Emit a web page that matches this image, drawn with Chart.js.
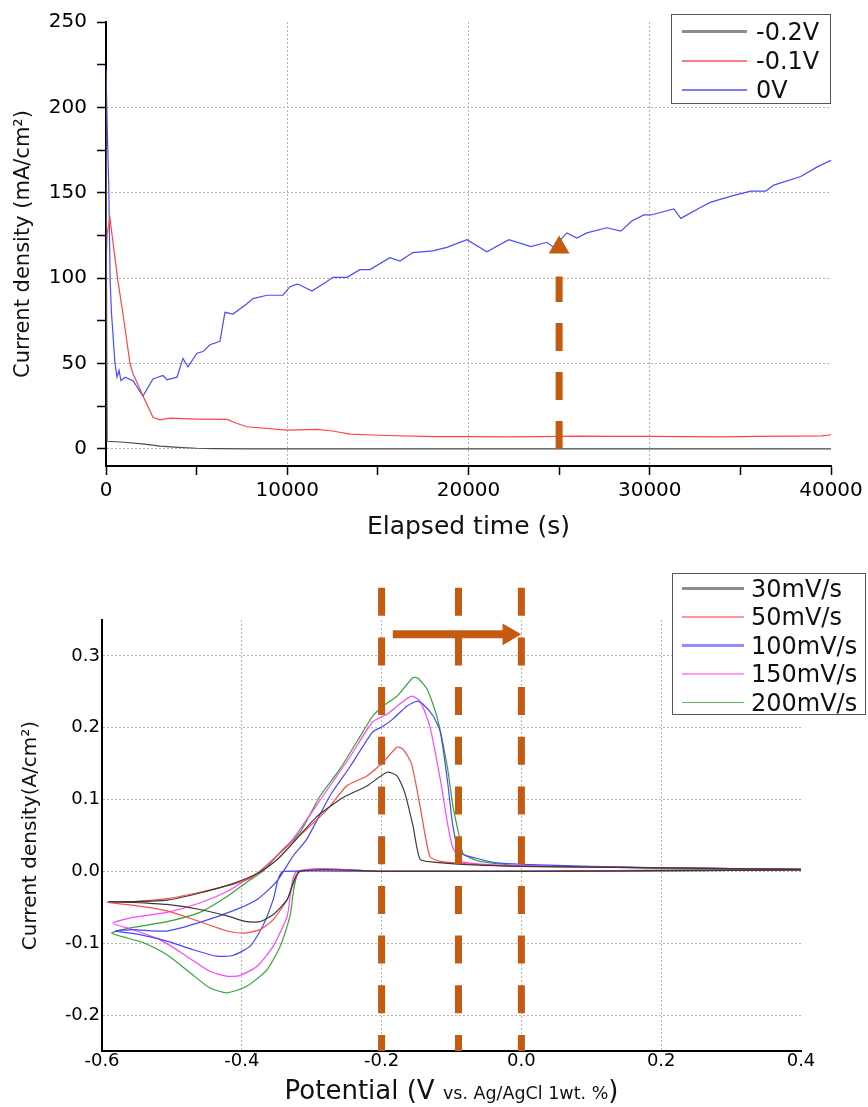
<!DOCTYPE html>
<html>
<head>
<meta charset="utf-8">
<script src="https://cdn.jsdelivr.net/npm/chart.js@4.4.1/dist/chart.umd.min.js"></script>
<style>
html,body{margin:0;padding:0;background:#fff;}
#wrap{position:relative;width:868px;height:1107px;overflow:hidden;font-family:'DejaVu Sans',sans-serif;color:#111;}
#c1{position:absolute;left:0;top:0;}
#c2{position:absolute;left:0;top:555px;}
.lgbox{position:absolute;border:1.5px solid #555;box-sizing:border-box;background:rgba(255,255,255,0.9);}
.lgline{position:absolute;}
.lgtext{position:absolute;white-space:nowrap;line-height:1;transform:translateY(-50%);color:#111;}
#xt2{position:absolute;left:102px;width:699px;top:1075px;text-align:center;font-size:26px;line-height:30px;white-space:nowrap;color:#111;}
#xt2 span{font-size:17.5px;}
</style>
</head>
<body>
<div id="wrap">
  <canvas id="c1" width="868" height="555"></canvas>
  <canvas id="c2" width="868" height="552"></canvas>
  <div id="xt2">Potential (V <span>vs. Ag/AgCl 1wt. %</span>)</div>
</div>
<script>
// ---------- Top chart data (chronoamperometry) ----------
const topSeriesNames = ['-0.2V', '-0.1V', '0V'];
const t_m02 = [0, 20, 60, 1000, 2000, 3000, 4000, 5000, 6000, 8000, 12000, 20000, 30000, 40000];
const j_m02 = [211, 120, 4.5, 3.9, 2.9, 1.6, 0.9, 0.4, 0.15, 0.05, 0, 0, 0, 0];
const t_m01 = [0, 60, 220, 662, 938, 1324, 1489, 1750, 2041, 2592, 2978, 3530, 5000, 6674, 7200, 7777, 9983, 11638, 12500, 13458, 15000, 18036, 20000, 22000, 24000, 26000, 28000, 30000, 32000, 34000, 36000, 38000, 39500, 40000];
const j_m01 = [105, 126, 135, 98, 79, 50, 44, 38, 31, 18.5, 17, 18, 17.5, 17.3, 15, 13, 11, 11.5, 10.5, 8.7, 8, 7.2, 7.2, 7.0, 7.2, 7.5, 7.3, 7.4, 7.2, 7.0, 7.3, 7.5, 7.6, 8.3];
const t_0 = [0, 80, 150, 230, 300, 496, 607, 717, 827, 1048, 1489, 2041, 2592, 3144, 3365, 3916, 4247, 4523, 5019, 5350, 5736, 6288, 6400, 6564, 7005, 7777, 8108, 8880, 9763, 10149, 10535, 10701, 11362, 12190, 12521, 13293, 14010, 14562, 15665, 16216, 16933, 18036, 18809, 19912, 21015, 22228, 23442, 24324, 24711, 25428, 25979, 26531, 27634, 28406, 29013, 29675, 30061, 31330, 31716, 32819, 33370, 34639, 35577, 36404, 36845, 38334, 39217, 40000];
const j_0 = [222, 183, 155, 98, 80, 50, 42, 46, 40, 42, 40, 31, 41, 43, 40.5, 42, 53, 48, 56, 57, 61, 63, 70, 80, 79, 85, 88, 90, 90, 95, 96.5, 96, 92.5, 98, 100.5, 100.5, 105, 105, 112, 110, 115, 116, 118, 122.5, 115.5, 122.5, 118.5, 121, 118, 126.5, 123.5, 126.5, 129.5, 127.5, 133.5, 137, 137, 140.5, 135, 141.5, 144.5, 148.5, 151, 151, 154.5, 159.5, 165, 169];
const topXTicks = [0, 5000, 10000, 15000, 20000, 25000, 30000, 35000, 40000];
const topXGrid = [10000, 20000, 30000];
const topYTicks = [0, 25, 50, 75, 100, 125, 150, 175, 200, 225, 250];
const topYGrid = [0, 50, 100, 150, 200];
// arrow marker (time, shaft from/to, head)
const markTime = [25000];
const markShaft = [0, 101];
const markHead = [118];

// ---------- Bottom chart data (cyclic voltammetry) ----------
const cvSeriesNames = ['30mV/s', '50mV/s', '100mV/s', '150mV/s', '200mV/s'];
const cv30_E = [0.4, 0.2, 0.0, -0.2, -0.317, -0.335, -0.355, -0.374, -0.393, -0.421, -0.460, -0.507, -0.556, -0.591, -0.556, -0.507, -0.460, -0.413, -0.378, -0.350, -0.331, -0.292, -0.255, -0.221, -0.192, -0.178, -0.167, -0.155, -0.145, -0.126, -0.069, 0.0, 0.2, 0.4];
const cv30_J = [0.002, 0.001, 0.0, 0.0, 0.0, -0.039, -0.060, -0.070, -0.070, -0.062, -0.053, -0.046, -0.043, -0.042, -0.042, -0.040, -0.030, -0.017, -0.003, 0.016, 0.035, 0.077, 0.103, 0.119, 0.138, 0.133, 0.110, 0.063, 0.017, 0.013, 0.009, 0.007, 0.005, 0.003];
const cv50_E = [0.4, 0.2, 0.0, -0.2, -0.317, -0.335, -0.355, -0.374, -0.398, -0.421, -0.460, -0.507, -0.556, -0.593, -0.556, -0.507, -0.460, -0.413, -0.385, -0.365, -0.345, -0.307, -0.278, -0.250, -0.221, -0.198, -0.178, -0.169, -0.157, -0.145, -0.131, -0.116, -0.069, 0.0, 0.2, 0.4];
const cv50_J = [0.002, 0.001, 0.0, 0.0, 0.0, -0.039, -0.067, -0.081, -0.086, -0.083, -0.070, -0.055, -0.047, -0.043, -0.042, -0.038, -0.029, -0.018, -0.008, 0.008, 0.026, 0.059, 0.086, 0.119, 0.133, 0.152, 0.173, 0.170, 0.149, 0.091, 0.021, 0.014, 0.010, 0.007, 0.005, 0.003];
const cv100_E = [0.4, 0.2, 0.0, -0.2, -0.341, -0.348, -0.355, -0.370, -0.388, -0.413, -0.436, -0.470, -0.507, -0.546, -0.581, -0.556, -0.507, -0.460, -0.413, -0.378, -0.350, -0.327, -0.307, -0.274, -0.245, -0.213, -0.198, -0.184, -0.164, -0.149, -0.141, -0.126, -0.116, -0.106, -0.098, -0.088, -0.059, -0.035, 0.0, 0.1, 0.2, 0.4];
const cv100_J = [0.002, 0.001, 0.0, 0.0, 0.0, -0.011, -0.039, -0.076, -0.104, -0.117, -0.118, -0.109, -0.097, -0.088, -0.083, -0.081, -0.083, -0.071, -0.055, -0.039, -0.014, 0.021, 0.045, 0.105, 0.146, 0.194, 0.202, 0.212, 0.230, 0.237, 0.233, 0.216, 0.194, 0.128, 0.063, 0.026, 0.017, 0.012, 0.010, 0.007, 0.005, 0.003];
const cv150_E = [0.4, 0.2, 0.0, -0.2, -0.321, -0.335, -0.355, -0.378, -0.403, -0.421, -0.446, -0.479, -0.517, -0.556, -0.584, -0.556, -0.507, -0.460, -0.421, -0.393, -0.374, -0.331, -0.284, -0.245, -0.213, -0.192, -0.174, -0.157, -0.145, -0.131, -0.116, -0.105, -0.098, -0.083, 0.0, 0.2, 0.4];
const cv150_J = [0.002, 0.001, 0.0, 0.0, 0.0, -0.062, -0.104, -0.132, -0.145, -0.146, -0.139, -0.118, -0.095, -0.081, -0.072, -0.064, -0.057, -0.044, -0.028, -0.011, 0.0, 0.040, 0.105, 0.160, 0.208, 0.219, 0.233, 0.244, 0.237, 0.202, 0.128, 0.063, 0.033, 0.013, 0.008, 0.005, 0.003];
const cv200_E = [0.4, 0.2, 0.0, -0.2, -0.317, -0.331, -0.345, -0.364, -0.393, -0.421, -0.446, -0.474, -0.507, -0.541, -0.586, -0.556, -0.507, -0.460, -0.421, -0.393, -0.370, -0.341, -0.317, -0.288, -0.260, -0.227, -0.213, -0.198, -0.178, -0.155, -0.148, -0.135, -0.121, -0.106, -0.098, -0.088, -0.083, -0.059, 0.0, 0.2, 0.4];
const cv200_J = [0.003, 0.002, 0.0, 0.0, 0.0, -0.062, -0.104, -0.137, -0.160, -0.169, -0.162, -0.141, -0.116, -0.099, -0.086, -0.078, -0.070, -0.057, -0.035, -0.015, 0.0, 0.031, 0.054, 0.105, 0.142, 0.194, 0.216, 0.230, 0.244, 0.270, 0.269, 0.254, 0.216, 0.146, 0.091, 0.045, 0.024, 0.014, 0.008, 0.005, 0.003];
const cvXTicks = [-0.6, -0.4, -0.2, 0, 0.2, 0.4];
const cvXGrid = [-0.4, -0.2, 0, 0.2];
const cvYTicks = [-0.2, -0.1, 0, 0.1, 0.2, 0.3];
// annotation markers: dashed potentials, their vertical span, arrow
const cvMarkE = [-0.2, -0.09, 0.0];
const cvMarkSpan = [0.395, -0.25];
const cvArrowE = [-0.184, -0.02];
const cvArrowJ = [0.33];
const cvArrowHeadE = [-0.018];

// ---------- helpers ----------
const ORANGE = '#C55A11';
const GRID = '#b3b3b3';
const pts = (xs, ys) => xs.map((x, i) => ({x: x, y: ys[i]}));
Chart.defaults.font.family = "'DejaVu Sans', sans-serif";
Chart.defaults.color = '#111';

function lineDs(label, xs, ys, color, width, legendColor, legendWidth, tension) {
  return {label, data: pts(xs, ys), showLine: true, borderColor: color, backgroundColor: color,
    borderWidth: width, pointRadius: 0, pointHoverRadius: 0, tension: tension || 0, order: 2,
    legendColor, legendWidth};
}

// ---------- Top chart ----------
const topColors = ['#4d4d4d', '#ff4545', '#4b4bff'];
const topDatasets = [
  lineDs(topSeriesNames[0], t_m02, j_m02, topColors[0], 1.2, '#8c8c8c', 3),
  lineDs(topSeriesNames[1], t_m01, j_m01, topColors[1], 1.2, '#ff7a7a', 2),
  lineDs(topSeriesNames[2], t_0, j_0, topColors[2], 1.2, '#7a7aff', 2),
  {label: 'marker', isMarker: true, data: markShaft.map(v => ({x: markTime[0], y: v})), showLine: true,
   borderColor: ORANGE, borderWidth: 7, borderDash: [28, 21], borderCapStyle: 'butt', pointRadius: 0, pointHoverRadius: 0, order: 0, clip: false},
  {label: 'markerHead', isMarker: true, data: markHead.map(v => ({x: markTime[0], y: v})), showLine: false,
   pointStyle: 'triangle', pointRadius: 12, pointHoverRadius: 12, pointBackgroundColor: ORANGE, pointBorderColor: ORANGE, pointBorderWidth: 0, order: 0, clip: false}
];

const chart1 = new Chart(document.getElementById('c1'), {
  type: 'scatter',
  data: {datasets: topDatasets},
  options: {
    responsive: false, animation: false, events: [],
    layout: {padding: {top: 16, right: 37, left: 0, bottom: 0}},
    plugins: {legend: {display: false}, tooltip: {enabled: false}},
    scales: {
      x: {
        type: 'linear', min: 0, max: 40000,
        afterBuildTicks: s => { s.ticks = topXTicks.map(v => ({value: v})); },
        afterFit: s => { s.height = 89; },
        ticks: {font: {size: 20}, color: '#000', padding: 4, maxRotation: 0, autoSkip: false,
          callback: v => (v % 10000 === 0 ? String(v) : '')},
        grid: {color: c => (c.tick && topXGrid.includes(c.tick.value) ? GRID : 'transparent'),
          lineWidth: 1, tickLength: 9, tickColor: '#000', tickWidth: 1.5},
        border: {color: '#000', width: 2, dash: [2, 2]},
        title: {display: true, text: 'Elapsed time (s)', color: '#111', font: {size: 25}, padding: {top: 0, bottom: 13}}
      },
      y: {
        type: 'linear', min: -10, max: 250,
        afterBuildTicks: s => { s.ticks = topYTicks.map(v => ({value: v})); },
        afterFit: s => { s.width = 106; },
        ticks: {font: {size: 20}, color: '#000', padding: 10, autoSkip: false,
          callback: v => (v % 50 === 0 ? String(v) : '')},
        grid: {color: c => (c.tick && topYGrid.includes(c.tick.value) ? GRID : 'transparent'),
          lineWidth: 1, tickLength: 9, tickColor: '#000', tickWidth: 1.5},
        border: {color: '#000', width: 2, dash: [2, 2]},
        title: {display: true, text: 'Current density (mA/cm\u00B2)', color: '#111', font: {size: 21}, padding: {top: 11, bottom: 0}}
      }
    }
  }
});

// ---------- Bottom chart ----------
const cvDatasets = [
  lineDs(cvSeriesNames[0], cv30_E, cv30_J, '#3a3a3a', 1.2, '#8c8c8c', 2.5, 0.2),
  lineDs(cvSeriesNames[1], cv50_E, cv50_J, '#ff4a4a', 1.2, '#ff9a9a', 2.5, 0.2),
  lineDs(cvSeriesNames[2], cv100_E, cv100_J, '#4646ff', 1.2, '#8e8eff', 2.5, 0.2),
  lineDs(cvSeriesNames[3], cv150_E, cv150_J, '#ff46ff', 1.2, '#ff9cff', 2.5, 0.2),
  lineDs(cvSeriesNames[4], cv200_E, cv200_J, '#36a336', 1.2, '#5cbf5c', 1.5, 0.2)
];
cvMarkE.forEach(e => {
  cvDatasets.push({label: 'marker', isMarker: true, data: cvMarkSpan.map(j => ({x: e, y: j})), showLine: true,
    borderColor: ORANGE, borderWidth: 7, borderDash: [28, 21.7], borderCapStyle: 'butt', pointRadius: 0, pointHoverRadius: 0, order: 0, clip: false});
});
cvDatasets.push({label: 'arrow', isMarker: true, data: cvArrowE.map(e => ({x: e, y: cvArrowJ[0]})), showLine: true,
  borderColor: ORANGE, borderWidth: 8, borderCapStyle: 'butt', pointRadius: 0, pointHoverRadius: 0, order: 0, clip: false});
cvDatasets.push({label: 'arrowHead', isMarker: true, data: cvArrowHeadE.map(e => ({x: e, y: cvArrowJ[0]})), showLine: false,
  pointStyle: 'triangle', pointRotation: 90, pointRadius: 12.5, pointHoverRadius: 12.5, pointBackgroundColor: ORANGE,
  pointBorderColor: ORANGE, pointBorderWidth: 0, order: 0, clip: false});

const chart2 = new Chart(document.getElementById('c2'), {
  type: 'scatter',
  data: {datasets: cvDatasets},
  options: {
    responsive: false, animation: false, events: [],
    layout: {padding: {top: 65, right: 67, left: 0, bottom: 0}},
    plugins: {legend: {display: false}, tooltip: {enabled: false}},
    scales: {
      x: {
        type: 'linear', min: -0.6, max: 0.4,
        afterBuildTicks: s => { s.ticks = cvXTicks.map(v => ({value: v})); },
        afterFit: s => { s.height = 56; },
        ticks: {font: {size: 18}, color: '#000', padding: 0, maxRotation: 0, autoSkip: false, callback: v => Number(v).toFixed(1)},
        grid: {color: c => (c.tick && cvXGrid.includes(c.tick.value) ? GRID : 'transparent'), lineWidth: 1, drawTicks: false},
        border: {color: '#000', width: 2, dash: [2, 2]},
        title: {display: false}
      },
      y: {
        type: 'linear', min: -0.25, max: 0.35,
        afterBuildTicks: s => { s.ticks = cvYTicks.map(v => ({value: v})); },
        afterFit: s => { s.width = 102; },
        ticks: {font: {size: 18}, color: '#000', padding: 2, autoSkip: false, callback: v => Number(v).toFixed(1)},
        grid: {color: GRID, lineWidth: 1, drawTicks: false},
        border: {color: '#000', width: 2, dash: [2, 2]},
        title: {display: true, text: 'Current density(A/cm\u00B2)', color: '#111', font: {size: 20}, padding: {top: 19, bottom: 0}}
      }
    }
  }
});

// ---------- HTML legends built from the datasets ----------
const wrap = document.getElementById('wrap');
function buildLegend(chart, box, cfg) {
  const b = document.createElement('div');
  b.className = 'lgbox';
  Object.assign(b.style, {left: box.x + 'px', top: box.y + 'px', width: box.w + 'px', height: box.h + 'px'});
  wrap.appendChild(b);
  chart.data.datasets.filter(d => !d.isMarker).forEach((d, i) => {
    const cy = cfg.row0 + i * cfg.gap;
    const ln = document.createElement('div');
    ln.className = 'lgline';
    Object.assign(ln.style, {left: cfg.lx0 + 'px', width: (cfg.lx1 - cfg.lx0) + 'px',
      top: (cy - d.legendWidth / 2) + 'px', height: d.legendWidth + 'px', background: d.legendColor});
    wrap.appendChild(ln);
    const tx = document.createElement('div');
    tx.className = 'lgtext';
    tx.textContent = d.label;
    Object.assign(tx.style, {left: cfg.tx + 'px', top: cy + 'px', fontSize: cfg.fs + 'px'});
    wrap.appendChild(tx);
  });
}
buildLegend(chart1, {x: 671, y: 14, w: 160, h: 90}, {row0: 31.5, gap: 29, lx0: 682, lx1: 747, tx: 756, fs: 24});
buildLegend(chart2, {x: 672, y: 573, w: 194, h: 142}, {row0: 588.5, gap: 28.5, lx0: 682, lx1: 744, tx: 751, fs: 24});
</script>
</body>
</html>
